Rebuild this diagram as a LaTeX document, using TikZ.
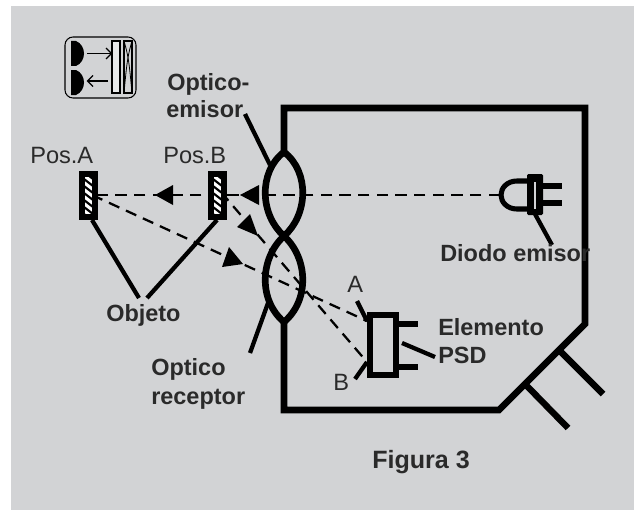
\documentclass[tikz,border=0pt]{standalone}
\usepackage{fontspec}
\setmainfont{Liberation Sans}
\definecolor{bg}{HTML}{D2D3D5}
\definecolor{ink}{HTML}{2A2A2A}
\tikzset{
  px/.style={x=0.75pt,y=-0.75pt},
  heavy/.style={line width=5pt,line cap=butt,line join=miter,black},
  lens/.style={line width=5pt,black},
  lead/.style={line width=3.2pt,black},
  ray/.style={line width=1.7pt,black,dash pattern=on 8.5pt off 5.5pt},
  tri/.style={fill=black,draw=none},
  lab/.style={anchor=base west,inner sep=0pt,text=ink,font=\fontsize{17.7}{18}\selectfont},
  blab/.style={lab,font=\fontsize{17.6}{18}\selectfont\bfseries},
  pin/.style={line width=4.8pt,black},
}
\begin{document}
\begin{tikzpicture}[px]
\useasboundingbox (0,0) rectangle (634,510);
\fill[white] (0,0) rectangle (634,510);
\fill[bg] (11,6) rectangle (634,510);

% housing
\coordinate (hT) at (284,152);
\coordinate (hTL) at (284,108);
\coordinate (hTR) at (585,108);
\coordinate (hR) at (585,324);
\coordinate (hD) at (499,410);
\coordinate (hBL) at (284,410);
\coordinate (hB) at (284,322);
\coordinate (hX) at (284,236);
\draw[heavy,line join=miter] (hT) -- (hTL) -- (hTR) -- (hR) -- (hD) -- (hBL) -- (hB);
% plug
\coordinate (c1a) at (559,350);\coordinate (c1b) at (603,394);
\coordinate (c2a) at (525,384);\coordinate (c2b) at (568,428);
\draw[pin] (c1a) -- (c1b);
\draw[pin] (c2a) -- (c2b);

% rays
\coordinate (oA) at (92,195);
\coordinate (oB) at (221,192);
\coordinate (led) at (500,195);
\coordinate (psdA) at (367,321);
\coordinate (psdB) at (367,362);
\draw[ray] (led) -- (oA);
\draw[ray] (oA) -- (psdA);
\draw[ray] (oB) -- (psdB);

% lens
\draw[lens] (hT) .. controls (258,172) and (260,215) .. (hX) .. controls (308,258) and (310,300) .. (hB);
\draw[lens] (hT) .. controls (310,172) and (308,215) .. (hX) .. controls (260,258) and (258,300) .. (hB);

% arrowheads
\fill[tri] (155,195) -- (173,185) -- (173,205) -- cycle;
\fill[tri] (240,195) -- (259,185) -- (259,205) -- cycle;
\fill[tri] (237,227) -- (250,214) -- (258,236) -- cycle;
\fill[tri] (229,247) -- (222,267) -- (243,264) -- cycle;

% objects
\fill[black] (79,171) rectangle (98,220);
\fill[black] (208,171) rectangle (227,220);
\begin{scope}
\clip (85,177) rectangle (92,214);
\fill[white] (85,177) rectangle (92,214);
\foreach \y in {172,179,...,221} \draw[black,line width=1.6pt] (84,\y) -- (93,\y+7);
\end{scope}
\begin{scope}
\clip (214,177) rectangle (221,214);
\fill[white] (214,177) rectangle (221,214);
\foreach \y in {172,179,...,221} \draw[black,line width=1.6pt] (213,\y) -- (222,\y+7);
\end{scope}
% object leaders
\coordinate (objJa) at (139,298);
\coordinate (objJb) at (147,298);
\coordinate (objAb) at (92,220);
\coordinate (objBb) at (217,220);
\draw[lead] (objAb) -- (objJa);
\draw[lead] (objBb) -- (objJb);

% leaders
\coordinate (l1a) at (245,114);\coordinate (l1b) at (270,165);
\draw[lead] (l1a) -- (l1b);
\coordinate (l2a) at (250,353);\coordinate (l2b) at (268,303);
\draw[lead] (l2a) -- (l2b);

% LED
\draw[line width=3.8pt] (527,181) -- (517,181) .. controls (507,181) and (501,188) .. (501,195) .. controls (501,202) and (507,209) .. (517,209) -- (527,209);
\draw[pin] (543,186) -- (562,186);
\draw[pin] (543,203) -- (562,203);
\fill[black,rounded corners=1pt] (527,174) rectangle (543,215);
\draw[bg,line width=1.3pt] (535,182) -- (535,209);
\coordinate (ledA) at (535,214);\coordinate (ledB) at (552,245);
\draw[lead] (ledA) -- (ledB);

% PSD
\draw[line width=4.8pt,fill=bg] (370,315) rectangle (396,375);
\draw[pin] (398,324) -- (418,324);
\draw[pin] (398,367) -- (418,367);
\coordinate (psdL1) at (402,343);\coordinate (psdL2) at (435,357);
\draw[lead] (psdL1) -- (psdL2);
\coordinate (tA) at (357,301);
\coordinate (tB) at (355,379);
\draw[lead] (tA) -- (psdA);
\draw[lead] (tB) -- (psdB);

% icon
\draw[black,line width=0.8pt,rounded corners=6pt] (65,37) rectangle (136,98);
\fill[black] (71,41) -- (76,41) .. controls (81,43) and (84,48) .. (84,53.5) .. controls (84,59) and (81,64) .. (76,66) -- (71,66) -- cycle;
\fill[black] (71,70) -- (76,70) .. controls (81,72) and (84,77) .. (84,82.5) .. controls (84,88) and (81,93) .. (76,95) -- (71,95) -- cycle;
\draw[line width=1pt] (87,53.5) -- (111,53.5);
\draw[line width=1pt] (106,48) -- (111.5,53.5) -- (106,59);
\draw[line width=1pt] (108,81) -- (88,81);
\draw[line width=1pt] (93,75.5) -- (87.5,81) -- (93,86.5);
\draw[black,line width=0.8pt,fill=white!50!bg] (112,41) rectangle (120,93);
\draw[black,line width=0.8pt] (124,41) rectangle (132,93);
\draw[black,line width=0.6pt] (124,41) .. controls (128,55) and (129,60) .. (132,93);
\draw[black,line width=0.6pt] (132,41) .. controls (128,55) and (127,60) .. (124,93);

% text
\node[lab] (posA) at (30,163) {Pos.A};
\node[lab] (posB) at (163,163) {Pos.B};
\node[blab] (t1) at (167,90) {Optico-};
\node[blab] (t2) at (166,117) {emisor};
\node[blab] (t3) at (440,261) {Diodo emisor};
\node[blab] (t4) at (106,321) {Objeto};
\node[blab] (t5) at (151,375) {Optico};
\node[blab] (t6) at (151,404) {receptor};
\node[blab] (t7) at (438,335) {Elemento};
\node[blab] (t8) at (438,363) {PSD};
\node[lab] (la) at (347,292) {A};
\node[lab] (lb) at (333,390) {B};
\node[blab,font=\fontsize{18.8}{20}\selectfont\bfseries] (fig) at (372,468) {Figura 3};
\end{tikzpicture}
\end{document}
